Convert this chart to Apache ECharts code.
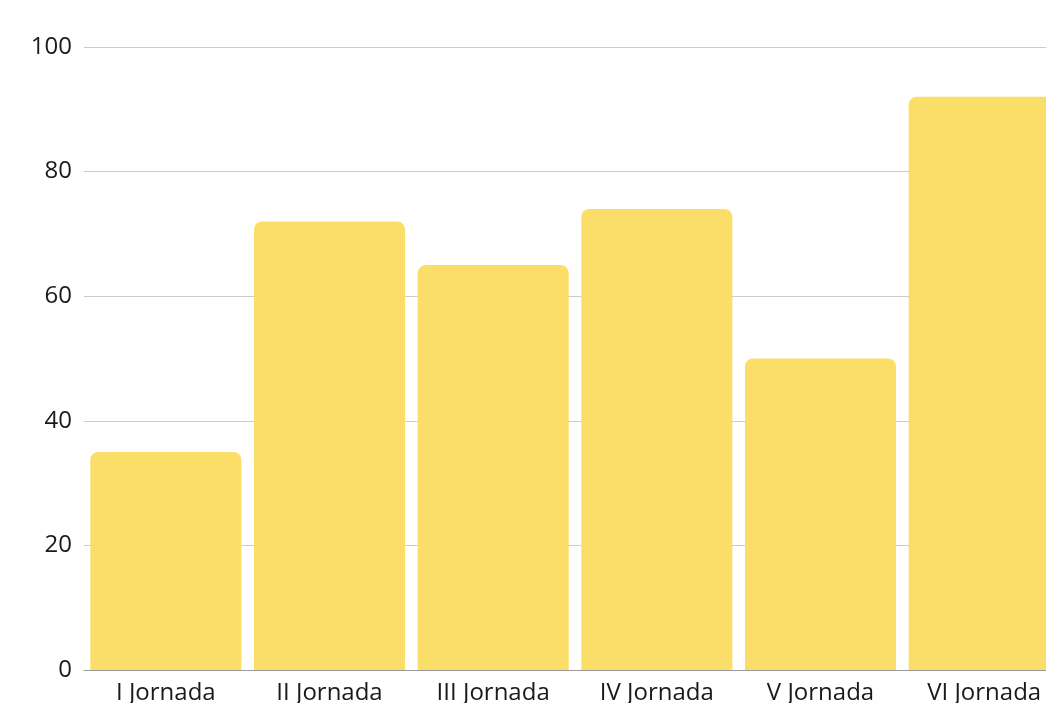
<!DOCTYPE html>
<html>
<head>
<meta charset="utf-8">
<script src="https://cdn.jsdelivr.net/npm/echarts@6/dist/echarts.min.js"></script>
<style>
  html, body { margin: 0; padding: 0; background: #fff; overflow: hidden; }
  #chart { width: 1066px; height: 703px; }
</style>
</head>
<body>
<div id="chart"></div>
<script>
// categorias e valores
const categories = ['I Jornada', 'II Jornada', 'III Jornada', 'IV Jornada', 'V Jornada', 'VI Jornada'];
const values = [35, 72, 65, 74, 50, 92];
const yTicks = { min: 0, max: 100, interval: 20 };

const myChart = echarts.init(document.getElementById('chart'));

const option = {
  animation: false,
  grid: {
    left: 84,
    right: 0,
    top: 47,
    bottom: 33,
    containLabel: false,
    outerBoundsMode: 'none'
  },
  xAxis: {
    type: 'category',
    data: categories,
    axisTick: { show: false },
    axisLine: { lineStyle: { color: '#999', width: 1 } },
    axisLabel: {
      color: '#1a1a1a',
      fontFamily: 'Open Sans',
      fontSize: 24,
      margin: 11
    }
  },
  yAxis: {
    type: 'value',
    min: yTicks.min,
    max: yTicks.max,
    interval: yTicks.interval,
    axisLine: { show: false },
    axisTick: { show: false },
    axisLabel: {
      color: '#1a1a1a',
      fontFamily: 'Open Sans',
      fontSize: 24,
      margin: 12
    },
    splitLine: { lineStyle: { color: '#ccc', width: 1 } }
  },
  series: [{
    type: 'bar',
    data: values,
    barCategoryGap: '7.7%',
    itemStyle: {
      color: '#FADE67',
      borderRadius: [8, 8, 0, 0]
    }
  }]
};

myChart.setOption(option);
window.addEventListener('resize', myChart.resize);
</script>
</body>
</html>
